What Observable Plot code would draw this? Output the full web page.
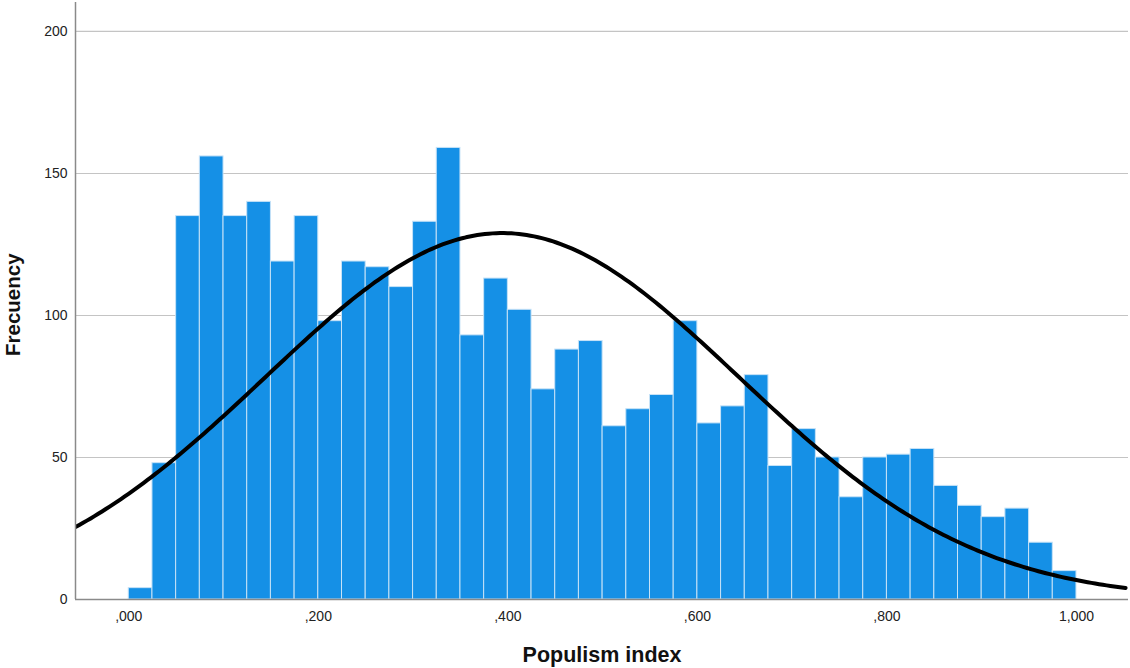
<!DOCTYPE html>
<html>
<head>
<meta charset="utf-8">
<script src="https://cdn.jsdelivr.net/npm/d3@7"></script>
<script src="https://cdn.jsdelivr.net/npm/@observablehq/plot@0.6"></script>
<style>
  html, body { margin: 0; padding: 0; background: #fff; }
  #chart svg { display: block; }
</style>
</head>
<body>
<div id="chart"></div>
<script>
// ---- data ----
const binStart = 0;
const binWidth = 0.025;
const counts = [4, 48, 135, 156, 135, 140, 119, 135, 98, 119,
                117, 110, 133, 159, 93, 113, 102, 74, 88, 91,
                61, 67, 72, 98, 62, 68, 79, 47, 60, 50,
                36, 50, 51, 53, 40, 33, 29, 32, 20, 10];
const xTicks = [0, 0.2, 0.4, 0.6, 0.8, 1.0];
const xTickLabels = [",000", ",200", ",400", ",600", ",800", "1,000"];
const yTicks = [0, 50, 100, 150, 200];
const xDomain = [-0.0562, 1.0549];
const yDomain = [0, 210.2];
// normal curve parameters (fitted curve shown in the reference)
const curveMean = 0.394;
const curveSD = 0.25;
const curveN = 3234;
const xTitle = "Populism index";
const yTitle = "Frecuency";

// ---- build tables ----
const bins = counts.map((c, i) => ({
  x1: binStart + i * binWidth,
  x2: binStart + (i + 1) * binWidth,
  y: c
}));
const curve = d3.range(xDomain[0], xDomain[1] + 0.0001, 0.004).map(x => ({
  x,
  y: curveN * binWidth * Math.exp(-0.5 * ((x - curveMean) / curveSD) ** 2) / (curveSD * Math.sqrt(2 * Math.PI))
}));

const font = "'Liberation Sans', Arial, sans-serif";

const chart = Plot.plot({
  width: 1130,
  height: 668,
  marginLeft: 75,
  marginRight: 2,
  marginTop: 2,
  marginBottom: 69,
  style: { fontFamily: font, background: "#fff" },
  x: { domain: xDomain },
  y: { domain: yDomain },
  marks: [
    Plot.gridY(yTicks.filter(d => d > 0), { stroke: "#c4c4c4", strokeOpacity: 1, strokeWidth: 1.2 }),
    Plot.rectY(bins, { x1: "x1", x2: "x2", y: "y", fill: "#1590e6", stroke: "#c6e2f7", strokeWidth: 1 }),
    Plot.line(curve, { x: "x", y: "y", stroke: "#000", strokeWidth: 4, clip: true }),
    Plot.ruleY([0], { stroke: "#8a8a8a", strokeWidth: 1.5 }),
    Plot.ruleX([xDomain[0]], { stroke: "#8a8a8a", strokeWidth: 1.5 }),
    Plot.axisY({ ticks: yTicks, tickSize: 0, tickPadding: 8, fontSize: 14, label: null, color: "#222" }),
    Plot.axisX({ ticks: xTicks, tickFormat: (d, i) => xTickLabels[i], tickSize: 0, tickPadding: 12, fontSize: 14, label: null, color: "#222" }),
    Plot.text([xTitle], { text: d => d, frameAnchor: "bottom", lineAnchor: "bottom", dy: 62, fontSize: 21.5, fontWeight: "bold", fill: "#111" }),
    Plot.text([yTitle], { text: d => d, frameAnchor: "left", rotate: -90, lineAnchor: "middle", dx: -62, dy: 55, fontSize: 20.5, fontWeight: "bold", fill: "#111" })
  ]
});
document.getElementById("chart").appendChild(chart);
</script>
</body>
</html>
